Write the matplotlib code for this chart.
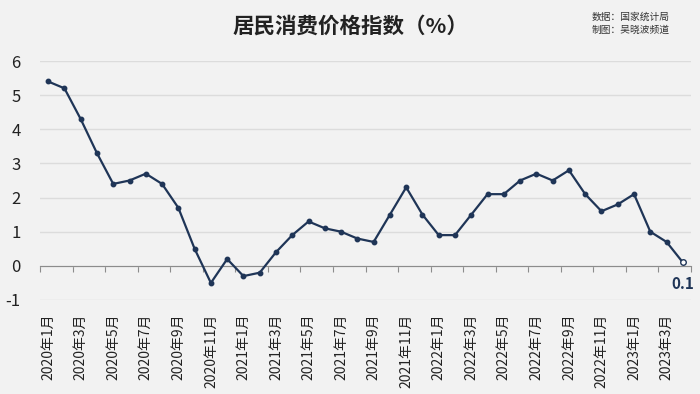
import matplotlib
matplotlib.use("Agg")
import matplotlib.pyplot as plt

plt.rcParams['font.family'] = ['Noto Sans CJK SC', 'DejaVu Sans']

months = [f"{y}年{m}月" for y in (2020, 2021, 2022) for m in range(1, 13)] + [f"2023年{m}月" for m in range(1, 5)]
cpi = [5.4, 5.2, 4.3, 3.3, 2.4, 2.5, 2.7, 2.4, 1.7, 0.5, -0.5, 0.2,
       -0.3, -0.2, 0.4, 0.9, 1.3, 1.1, 1.0, 0.8, 0.7, 1.5, 2.3, 1.5,
       0.9, 0.9, 1.5, 2.1, 2.1, 2.5, 2.7, 2.5, 2.8, 2.1, 1.6, 1.8,
       2.1, 1.0, 0.7, 0.1]
yticks = [-1, 0, 1, 2, 3, 4, 5, 6]

bg = '#f2f2f2'
navy = '#1f3557'

fig = plt.figure(figsize=(7, 3.94), dpi=100, facecolor=bg)
ax = fig.add_axes([40/700, 1-300/394, 651/700, 239/394], facecolor=bg)

x = list(range(len(cpi)))
ax.plot(x[:-1], cpi[:-1], color=navy, lw=1.6, marker='o', ms=3.2, zorder=3)
ax.plot(x[-2:], cpi[-2:], color=navy, lw=1.6, zorder=3)
ax.plot(x[-1], cpi[-1], marker='o', ms=4, mfc='white', mec=navy, mew=1, zorder=4)
ax.text(x[-1], -0.3, f"{cpi[-1]}", color=navy, fontsize=11, fontweight='bold',
        ha='center', va='top')

ax.set_xlim(-0.5, len(cpi) - 0.5)
ax.set_ylim(-1, 6)
ax.set_yticks(yticks)
ax.set_yticklabels([str(v) for v in yticks], fontsize=12, color='#222222')
ax.tick_params(axis='y', length=0, pad=14)
ax.grid(axis='y', color='#dcdcdc', lw=1)
ax.set_axisbelow(True)

for s in ('left', 'right', 'top'):
    ax.spines[s].set_visible(False)
ax.spines['bottom'].set_position(('data', 0))
ax.spines['bottom'].set_color('#8c8c8c')
ax.set_xticks([i - 0.5 for i in range(0, len(cpi) + 1, 2)])
ax.set_xticklabels([])
ax.tick_params(axis='x', length=4, color='#8c8c8c', direction='out')

sec = ax.secondary_xaxis('bottom')
sec.set_xticks(x[::2])
sec.set_xticklabels(months[::2], rotation=90, fontsize=10, color='#222222')
sec.tick_params(length=0, pad=10)
sec.spines['bottom'].set_visible(False)

fig.text(0.5, 1-26/394, "居民消费价格指数（%）", ha='center', va='center',
         fontsize=15.5, fontweight='bold', color='#222222')
fig.text(592/700, 1-17/394, "数据：国家统计局", ha='left', va='center', fontsize=7, color='#333333')
fig.text(592/700, 1-30/394, "制图：吴晓波频道", ha='left', va='center', fontsize=7, color='#333333')

fig.savefig('out.png', dpi=100, facecolor=bg)
